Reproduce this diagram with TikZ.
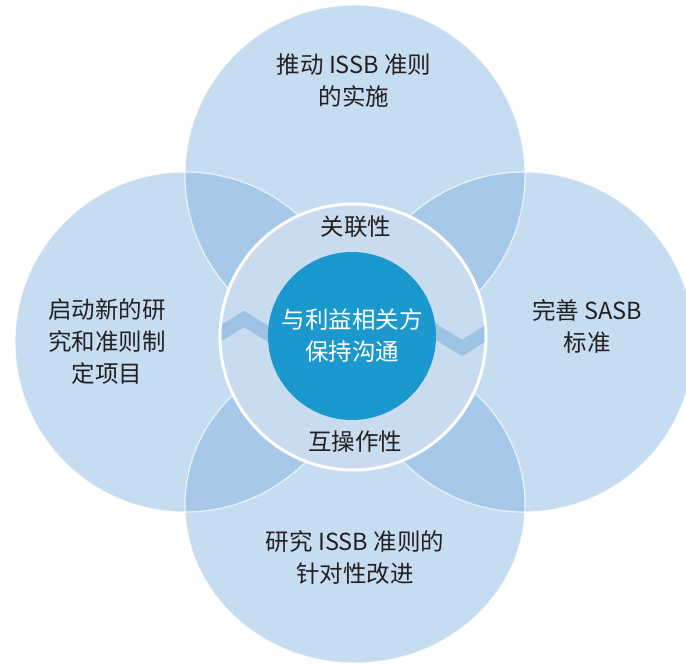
\documentclass[tikz,border=0pt]{standalone}
\usepackage{fontspec}
\setmainfont{Noto Sans CJK SC}
\usepackage{tikz}
\usetikzlibrary{positioning, shapes.geometric}

\definecolor{petal}{HTML}{C6DDF1}
\definecolor{lens}{HTML}{A7C9E9}
\definecolor{ringfill}{HTML}{C9DCEF}
\definecolor{core}{HTML}{1B99CF}
\definecolor{wave}{HTML}{9CC2E4}
\definecolor{ink}{HTML}{231F20}

\begin{document}
\begin{tikzpicture}[x=1pt, y=-1pt, font=\fontsize{23.5}{32}\selectfont,
        petal node/.style={circle, fill=petal, minimum size=340pt, inner sep=0pt},
        label text/.style={text=ink, align=center},
        ring node/.style={circle, fill=ringfill, draw=white, line width=3pt, minimum size=266pt, inner sep=0pt},
        core node/.style={circle, fill=core, minimum size=168pt, inner sep=0pt, text=white, align=center}]

        \useasboundingbox (0,0) rectangle (686,664);

        % Petals
        \node[petal node] (top) at (355,175) {};
        \node[petal node] (left) at (185,342) {};
        \node[petal node] (right) at (524,342) {};
        \node[petal node, ellipse, minimum width=340pt, minimum height=316pt] (bottom) at (355,505) {};

        % Overlaps
        \foreach \a/\ry/\b in {top/170/left, top/170/right, bottom/158/left, bottom/158/right} {
            \begin{scope}
                \clip (\a.center) ellipse [x radius=170pt, y radius=\ry pt];
                \fill[lens] (\b.center) circle [radius=170pt];
            \end{scope}
        }
        \foreach \p/\ry in {top/170, left/170, right/170, bottom/158} {
            \draw[white, opacity=0.7, line width=1.2pt] (\p.center) ellipse [x radius=170pt, y radius=\ry pt];
        }

        % Ring
        \node[ring node] (ring) at (353,337) {};
        \begin{scope}
            \clip (ring.center) circle [radius=131.5pt];
            \draw[wave, line width=14pt] (205,343) -- (244,319) -- (275,338) -- (430,328) -- (462,348) -- (500,324);
        \end{scope}

        \node[core node] (core) at (352,336) {与利益相关方\\保持沟通};

        % Labels
        \node[label text] (toptext) at (354,81) {推动 ISSB 准则\\的实施};
        \node[label text] (lefttext) at (107,342) {启动新的研\\究和准则制\\定项目};
        \node[label text] (righttext) at (587,326) {完善 SASB\\标准};
        \node[label text] (bottomtext) at (355,558) {研究 ISSB 准则的\\针对性改进};
        \node[label text] (relevance) at (356,227) {关联性};
        \node[label text] (interop) at (355,442) {互操作性};
    \end{tikzpicture}
\end{document}
